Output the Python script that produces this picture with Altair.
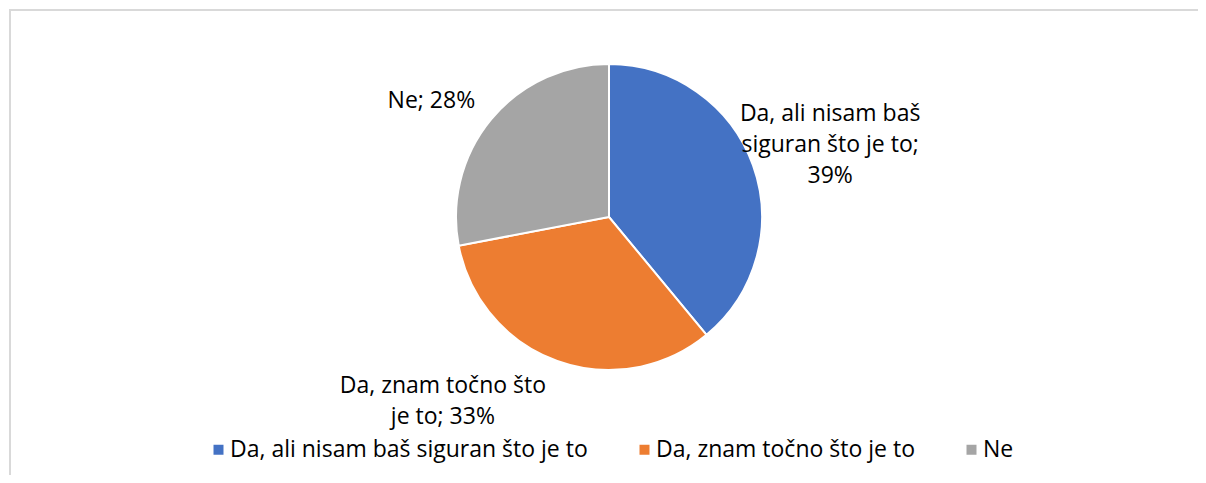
import math
import altair as alt
import pandas as pd

categories = ["Da, ali nisam baš siguran što je to", "Da, znam točno što je to", "Ne"]
values = [39, 33, 28]
colors = ["#4472C4", "#ED7D31", "#A5A5A5"]
label_texts = ["Da, ali nisam baš\nsiguran što je to;\n39%", "Da, znam točno što\nje to; 33%", "Ne; 28%"]
# label placement around the pie (first-line anchor: angle clockwise from 12 o'clock, distance from centre in px)
label_angle_deg = [65.0, 224.5, 303.1]
label_dist = [244, 237, 212]

df = pd.DataFrame({
    "cat": categories,
    "value": values,
    "order": list(range(len(categories))),
    "label": label_texts,
    "lab_theta": [math.radians(a) for a in label_angle_deg],
    "lab_r": label_dist,
})

W, H = 1190, 467
CX, CY = 600, 208
FONT = "Open Sans"

color_scale = alt.Scale(domain=categories, range=colors)

pie = alt.Chart(df).mark_arc(outerRadius=153, stroke="white", strokeWidth=2).encode(
    theta=alt.Theta("value:Q", stack=True),
    order=alt.Order("order:Q"),
    color=alt.Color(
        "cat:N", scale=color_scale, sort=categories,
        legend=alt.Legend(
            title=None, orient="none", direction="horizontal",
            legendX=198, legendY=429, symbolType="square", symbolSize=100,
            symbolStrokeWidth=0, labelFont=FONT, labelFontSize=23, labelColor="#000000",
            labelOffset=0, columnPadding=45, labelLimit=600,
        ),
    ),
    x=alt.value(CX),
    y=alt.value(CY),
)

labels = alt.Chart(df).mark_text(
    font=FONT, fontSize=23, color="#000000", align="center", baseline="middle",
    lineBreak="\n", lineHeight=31,
).encode(
    theta=alt.Theta("lab_theta:Q", scale=None),
    radius=alt.Radius("lab_r:Q", scale=None),
    text="label:N",
    x=alt.value(CX),
    y=alt.value(CY),
)

border_left = alt.Chart(df).mark_rule(color="#d9d9d9", strokeWidth=2).encode(
    x=alt.value(1), y=alt.value(0), y2=alt.value(H)
)
border_top = alt.Chart(df).mark_rule(color="#d9d9d9", strokeWidth=2).encode(
    y=alt.value(1), x=alt.value(0), x2=alt.value(W)
)

chart = alt.layer(border_left, border_top, pie, labels).properties(
    width=W, height=H, padding=0,
    autosize=alt.AutoSizeParams(type="fit", contains="padding"),
).configure(background="white").configure_view(stroke=None)

chart.save("out.html", embed_options={"renderer": "svg", "actions": False})
